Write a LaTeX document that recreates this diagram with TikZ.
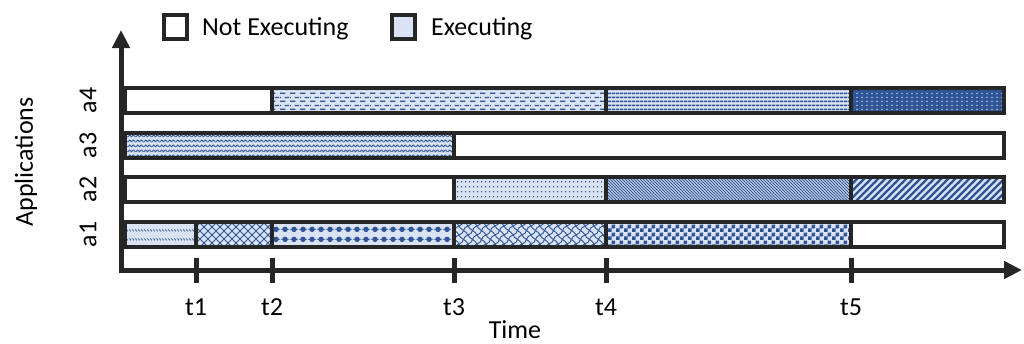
\documentclass[tikz,border=0pt]{standalone}
\usepackage{fontspec}
\setmainfont{Carlito}
\usetikzlibrary{patterns,arrows.meta}
\definecolor{bc}{HTML}{262626}
\definecolor{lb}{HTML}{DAE3F3}
\definecolor{pd}{HTML}{2F5597}
\definecolor{pl}{HTML}{D4DEF2}

% dashed horizontal
\pgfdeclarepatternformonly{hdash}{\pgfpoint{0pt}{0pt}}{\pgfpoint{10pt}{8pt}}{\pgfpoint{10pt}{8pt}}{%
  \pgfsetlinewidth{1.3pt}%
  \pgfpathmoveto{\pgfpoint{0pt}{2pt}}\pgfpathlineto{\pgfpoint{6pt}{2pt}}%
  \pgfpathmoveto{\pgfpoint{5pt}{6pt}}\pgfpathlineto{\pgfpoint{10pt}{6pt}}%
  \pgfpathmoveto{\pgfpoint{0pt}{6pt}}\pgfpathlineto{\pgfpoint{1pt}{6pt}}%
  \pgfusepath{stroke}}
% thick horizontal lines
\pgfdeclarepatternformonly{hthick}{\pgfpoint{0pt}{0pt}}{\pgfpoint{4pt}{4pt}}{\pgfpoint{4pt}{4pt}}{%
  \pgfsetlinewidth{2pt}%
  \pgfpathmoveto{\pgfpoint{-0.1pt}{2pt}}\pgfpathlineto{\pgfpoint{4.1pt}{2pt}}%
  \pgfusepath{stroke}}
% small dots
\pgfdeclarepatternformonly{sdots}{\pgfpoint{0pt}{0pt}}{\pgfpoint{4.5pt}{4pt}}{\pgfpoint{4.5pt}{4pt}}{%
  \pgfpathrectangle{\pgfpoint{1.6pt}{1.4pt}}{\pgfpoint{1.3pt}{1.2pt}}%
  \pgfusepath{fill}}
% wave
\pgfdeclarepatternformonly{wave}{\pgfpoint{0pt}{0pt}}{\pgfpoint{8pt}{5pt}}{\pgfpoint{8pt}{5pt}}{%
  \pgfsetlinewidth{1pt}%
  \pgfpathmoveto{\pgfpoint{-0.5pt}{1pt}}%
  \pgfpathlineto{\pgfpoint{2pt}{3.5pt}}\pgfpathlineto{\pgfpoint{4pt}{1.5pt}}%
  \pgfpathlineto{\pgfpoint{6pt}{3.5pt}}\pgfpathlineto{\pgfpoint{8.5pt}{1pt}}%
  \pgfusepath{stroke}}
% dotted grid
\pgfdeclarepatternformonly{dgrid}{\pgfpoint{0pt}{0pt}}{\pgfpoint{4pt}{5pt}}{\pgfpoint{4pt}{5pt}}{%
  \pgfpathrectangle{\pgfpoint{1.5pt}{2pt}}{\pgfpoint{1.2pt}{1.2pt}}%
  \pgfusepath{fill}}
% fine north west lines
\pgfdeclarepatternformonly{nwfine}{\pgfpoint{-1pt}{-1pt}}{\pgfpoint{4pt}{4pt}}{\pgfpoint{3pt}{3pt}}{%
  \pgfsetlinewidth{0.9pt}%
  \pgfpathmoveto{\pgfpoint{-0.1pt}{3.1pt}}\pgfpathlineto{\pgfpoint{3.1pt}{-0.1pt}}%
  \pgfusepath{stroke}}
% wide north east lines
\pgfdeclarepatternformonly{newide}{\pgfpoint{-1pt}{-1pt}}{\pgfpoint{8pt}{8pt}}{\pgfpoint{7pt}{7pt}}{%
  \pgfsetlinewidth{2.3pt}%
  \pgfpathmoveto{\pgfpoint{-1pt}{-1pt}}\pgfpathlineto{\pgfpoint{8pt}{8pt}}%
  \pgfusepath{stroke}}
% dashed diagonal
\pgfdeclarepatternformonly{ddash}{\pgfpoint{0pt}{0pt}}{\pgfpoint{3pt}{9pt}}{\pgfpoint{3pt}{9pt}}{%
  \pgfsetlinewidth{0.9pt}%
  \pgfpathmoveto{\pgfpoint{0.5pt}{7pt}}\pgfpathlineto{\pgfpoint{2.5pt}{5pt}}%
  \pgfusepath{stroke}}
% outlined diamond
\pgfdeclarepatternformonly{odiam}{\pgfpoint{-1pt}{-1pt}}{\pgfpoint{9pt}{9pt}}{\pgfpoint{8pt}{8pt}}{%
  \pgfsetlinewidth{0.8pt}%
  \pgfpathmoveto{\pgfpoint{-0.5pt}{-0.5pt}}\pgfpathlineto{\pgfpoint{8.5pt}{8.5pt}}%
  \pgfpathmoveto{\pgfpoint{-0.5pt}{8.5pt}}\pgfpathlineto{\pgfpoint{8.5pt}{-0.5pt}}%
  \pgfusepath{stroke}}
% solid diamond dots
\pgfdeclarepatternformonly{bdots}{\pgfpoint{0pt}{0pt}}{\pgfpoint{8.5pt}{10pt}}{\pgfpoint{8.5pt}{10pt}}{%
  \pgfpathcircle{\pgfpoint{4.25pt}{5pt}}{2.9pt}%
  \pgfusepath{fill}%
  \pgfsetlinewidth{0.8pt}%
  \pgfpathmoveto{\pgfpoint{0pt}{5pt}}\pgfpathlineto{\pgfpoint{8.5pt}{5pt}}%
  \pgfusepath{stroke}}
% wavy lattice
\pgfdeclarepatternformonly{wlat}{\pgfpoint{-1pt}{-1pt}}{\pgfpoint{10pt}{10pt}}{\pgfpoint{9pt}{9pt}}{%
  \pgfsetlinewidth{0.9pt}%
  \pgfpathmoveto{\pgfpoint{0pt}{0pt}}%
  \pgfpathcurveto{\pgfpoint{5.5pt}{1pt}}{\pgfpoint{3.5pt}{8pt}}{\pgfpoint{9pt}{9pt}}%
  \pgfpathmoveto{\pgfpoint{0pt}{9pt}}%
  \pgfpathcurveto{\pgfpoint{1pt}{5.5pt}}{\pgfpoint{8pt}{3.5pt}}{\pgfpoint{9pt}{0pt}}%
  \pgfusepath{stroke}}
% checkerboard
\pgfdeclarepatternformonly{chk}{\pgfpoint{0pt}{0pt}}{\pgfpoint{8pt}{8pt}}{\pgfpoint{8pt}{8pt}}{%
  \pgfpathrectangle{\pgfpoint{0pt}{0pt}}{\pgfpoint{4pt}{4pt}}%
  \pgfpathrectangle{\pgfpoint{4pt}{4pt}}{\pgfpoint{4pt}{4pt}}%
  \pgfusepath{fill}}

\tikzset{
  seg/.style={draw=bc, line width=3.8pt, line join=miter},
  ex/.style={seg, preaction={fill=lb}, pattern color=pd, pattern=#1},
  nx/.style={seg, fill=white},
  axis/.style={draw=bc, line width=5pt, line join=miter},
  tickmark/.style={draw=bc, line width=5pt},
  lab/.style={font=\fontsize{26}{30}\selectfont, text=black, inner sep=0pt},
  legbox/.style={draw=bc, line width=4pt, minimum width=23pt, minimum height=24pt, inner sep=0pt}
}

\begin{document}
\begin{tikzpicture}[x=1pt, y=-1pt]
\useasboundingbox (0,0) rectangle (1024,343);

% legend
\node[legbox, fill=white] (nebox) at (175.5,27) {};
\node[lab, anchor=base west] (netext) at (202,35) {Not Executing};
\node[legbox, fill=lb] (exbox) at (403.5,27) {};
\node[lab, anchor=base west] (extext) at (431,35) {Executing};

% row a4
\path[nx] (125,88) rectangle (272,113);
\path[ex=hdash] (272,88) rectangle (606,113);
\path[ex=hthick] (606,88) rectangle (851,113);
\path[seg, preaction={fill=pd}, pattern color=pl, pattern=sdots] (851,88) rectangle (1004,113);
% row a3
\path[ex=wave] (125,133) rectangle (454,158);
\path[nx] (454,133) rectangle (1004,158);
% row a2
\path[nx] (125,177) rectangle (454,202);
\path[ex=dgrid] (454,177) rectangle (606,202);
\path[ex=nwfine] (606,177) rectangle (851,202);
\path[ex=newide] (851,177) rectangle (1004,202);
% row a1
\path[ex=ddash] (125,222) rectangle (196,247);
\path[ex=odiam] (196,222) rectangle (272,247);
\path[ex=bdots] (272,222) rectangle (454,247);
\path[ex=wlat] (454,222) rectangle (606,247);
\path[ex=chk] (606,222) rectangle (851,247);
\path[nx] (851,222) rectangle (1004,247);

% axes
\coordinate (ytop) at (121,30);
\coordinate (origin) at (121,270);
\coordinate (xend) at (1022,270);
\draw[axis, {Triangle[length=18pt,width=17pt]}-{Triangle[length=18pt,width=17pt]}] (ytop) -- (origin) -- (xend);

% ticks and labels
\foreach \x/\n in {196/1, 272/2, 454/3, 606/4, 851/5}{
  \draw[tickmark] (\x,258) -- (\x,283);
  \node[lab, anchor=base] (t\n) at (\x,315) {t\n};
}
\node[lab, anchor=base] (time) at (515,338) {Time};

% row labels
\node[lab, rotate=90] (a4) at (88,100.5) {a4};
\node[lab, rotate=90] (a3) at (88,145.5) {a3};
\node[lab, rotate=90] (a2) at (88,189.5) {a2};
\node[lab, rotate=90] (a1) at (88,234.5) {a1};
\node[lab, rotate=90] (apps) at (26,162) {Applications};
\end{tikzpicture}
\end{document}
